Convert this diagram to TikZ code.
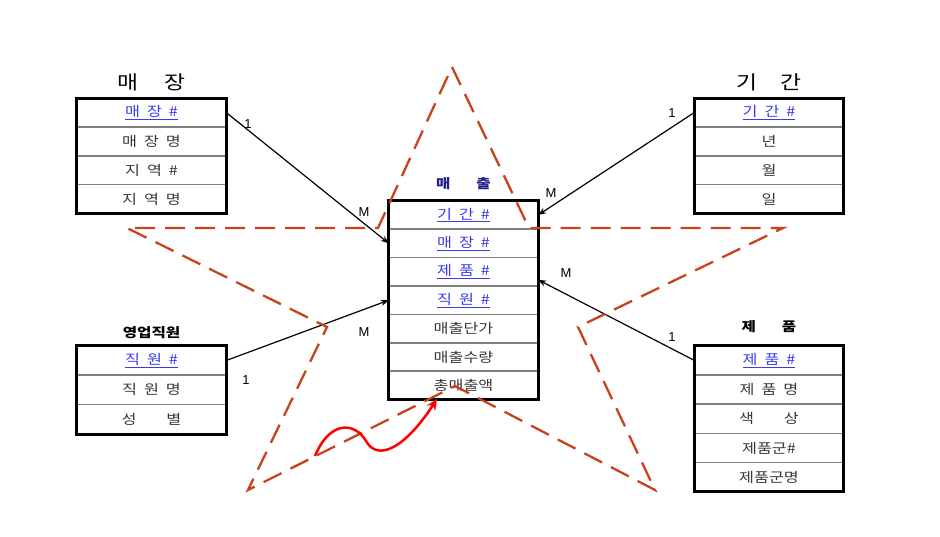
\documentclass[tikz,border=0pt]{standalone}
\usepackage{fontspec}
\newfontfamily\kr[FakeStretch=1.2]{Noto Sans CJK KR}
\newfontfamily\cardfont{Liberation Sans}
\usetikzlibrary{positioning, fit, arrows.meta}
\definecolor{starred}{HTML}{C8421A}
\definecolor{keyblue}{HTML}{3A3AF0}
\definecolor{navy}{HTML}{1E1E8C}
\definecolor{txtgrey}{HTML}{383838}
\newcommand\gp{\hspace{7pt}}
\tikzset{
x=1pt, y=-1pt, % pixel-like units, y grows downwards
>={Stealth[length=8pt, width=6pt]}, % small filled heads
field/.style={minimum width=149pt, minimum height=28.5pt, inner sep=0pt,
  text=txtgrey, font=\kr\fontsize{13.5}{14}\selectfont}, % one attribute row
keyfield/.style={field, text=keyblue}, % key attribute, blue and underlined
table/.style={draw, line width=3pt, inner sep=0pt}, % thick outer frame
rowline/.style={draw=gray, line width=1.5pt}, % grey line between rows
title/.style={font=\kr\fontsize{19}{20}\selectfont}, % entity name
subtitle/.style={font=\kr\bfseries\fontsize{13}{14}\selectfont},
rel/.style={->, line width=1.2pt}, % relationship line
card/.style={font=\cardfont\fontsize{13}{13}\selectfont, inner sep=1pt}, % 1 / M
star/.style={draw=starred, line width=2.3pt, dash pattern=on 20pt off 10pt},
}
\begin{document}
\begin{tikzpicture}
\useasboundingbox (0,0) rectangle (940,537);
% store
\node[keyfield] (mj1) at (151.5,112.5) {\underline{매\gp 장\gp \#}};
\node[field, below=0pt of mj1] (mj2) {매\gp 장\gp 명};
\node[field, below=0pt of mj2] (mj3) {지\gp 역\gp \#};
\node[field, below=0pt of mj3] (mj4) {지\gp 역\gp 명};
\foreach \r in {2,3,4} \draw[rowline] (mj\r.north west) -- (mj\r.north east);
\node[table, fit=(mj1)(mj4)] (mj) {};
\node[title, above=2pt of mj] (mjt) {매\hspace{26pt}장};
% period
\node[keyfield] (gi1) at (769,112.5) {\underline{기\gp 간\gp \#}};
\node[field, below=0pt of gi1] (gi2) {년};
\node[field, below=0pt of gi2] (gi3) {월};
\node[field, below=0pt of gi3] (gi4) {일};
\foreach \r in {2,3,4} \draw[rowline] (gi\r.north west) -- (gi\r.north east);
\node[table, fit=(gi1)(gi4)] (gi) {};
\node[title, above=2pt of gi] (git) {기\hspace{24pt}간};
% sales
\node[keyfield, minimum height=28pt] (sa1) at (463.5,215) {\underline{기\gp 간\gp \#}};
\node[keyfield, minimum height=28pt, below=0pt of sa1] (sa2) {\underline{매\gp 장\gp \#}};
\node[keyfield, minimum height=28pt, below=0pt of sa2] (sa3) {\underline{제\gp 품\gp \#}};
\node[keyfield, minimum height=28pt, below=0pt of sa3] (sa4) {\underline{직\gp 원\gp \#}};
\node[field, minimum height=28pt, below=0pt of sa4] (sa5) {매출단가};
\node[field, minimum height=28pt, below=0pt of sa5] (sa6) {매출수량};
\node[field, minimum height=28pt, below=0pt of sa6] (sa7) {총매출액};
\foreach \r in {2,...,7} \draw[rowline] (sa\r.north west) -- (sa\r.north east);
\node[table, fit=(sa1)(sa7)] (sa) {};
\node[subtitle, text=navy, above=6pt of sa] (sat) {매\hspace{26pt}출};
% sales staff
\node[keyfield, minimum height=29pt] (jw1) at (151.5,360.5) {\underline{직\gp 원\gp \#}};
\node[field, minimum height=29pt, below=0pt of jw1] (jw2) {직\gp 원\gp 명};
\node[field, minimum height=29pt, below=0pt of jw2] (jw3) {성\hspace{30pt}별};
\foreach \r in {2,3} \draw[rowline] (jw\r.north west) -- (jw\r.north east);
\node[table, fit=(jw1)(jw3)] (jw) {};
\node[subtitle, above=2pt of jw] (jwt) {영업직원};
% product
\node[keyfield, minimum height=28.8pt] (jp1) at (769,360.4) {\underline{제\gp 품\gp \#}};
\node[field, minimum height=28.8pt, below=0pt of jp1] (jp2) {제\gp 품\gp 명};
\node[field, minimum height=28.8pt, below=0pt of jp2] (jp3) {색\hspace{30pt}상};
\node[field, minimum height=28.8pt, below=0pt of jp3] (jp4) {제품군\#};
\node[field, minimum height=28.8pt, below=0pt of jp4] (jp5) {제품군명};
\foreach \r in {2,...,5} \draw[rowline] (jp\r.north west) -- (jp\r.north east);
\node[table, fit=(jp1)(jp5)] (jp) {};
\node[subtitle, above=8pt of jp] (jpt) {제\hspace{26pt}품};
% relationships
\draw[rel] (mj1.east) -- (sa2.west);
\draw[rel] (gi1.west) -- (sa1.east);
\draw[rel] (jw1.east) -- (sa4.west);
\draw[rel] (jp1.west) -- ([yshift=-8pt]sa3.east);
\node[card] (c1) at (248,124) {1};
\node[card] (c2) at (364,212) {M};
\node[card] (c3) at (672,113) {1};
\node[card] (c4) at (551,193) {M};
\node[card] (c5) at (246,380) {1};
\node[card] (c6) at (364,332) {M};
\node[card] (c7) at (672,337) {1};
\node[card] (c8) at (566,273) {M};
% dashed star on top
\draw[star] (452,67) -- (529,228) -- (783,228) -- (578,327) -- (655,490)
  -- (455,386) -- (248,490) -- (327,327) -- (127,228) -- (378,228) -- cycle;
% red wiggle
\coordinate (ws) at (315,456);
\coordinate (wt) at (437,399);
\draw[red, line width=2.5pt, -{Stealth[length=11pt, width=10pt]}]
  (ws) .. controls (330,420) and (355,422) .. (366,441)
  .. controls (378,462) and (405,448) .. (wt);
\end{tikzpicture}
\end{document}
